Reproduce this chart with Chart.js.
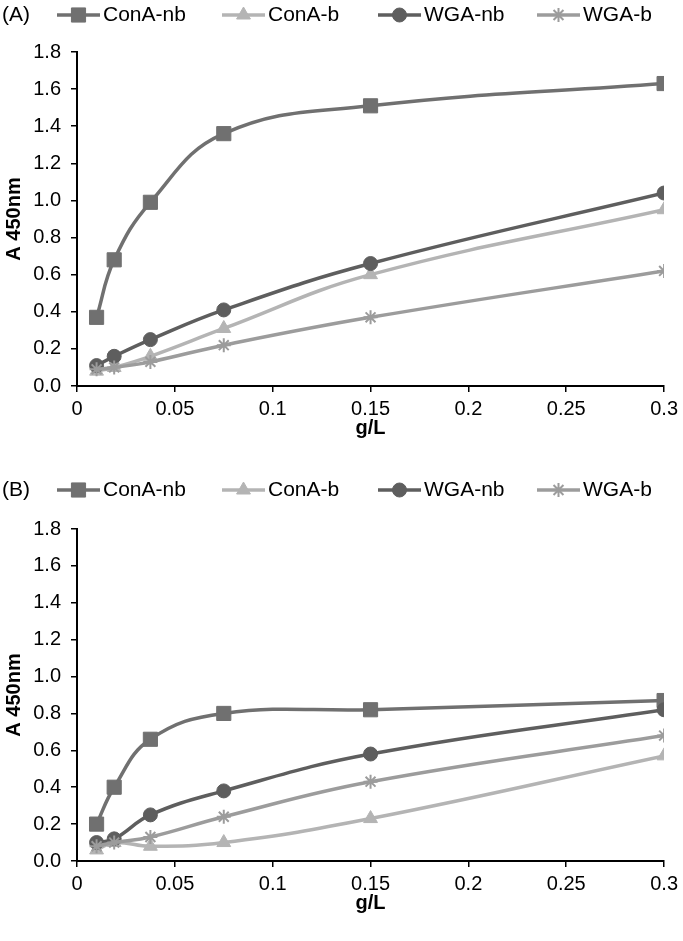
<!DOCTYPE html>
<html>
<head>
<meta charset="utf-8">
<script src="https://cdn.jsdelivr.net/npm/chart.js@4/dist/chart.umd.min.js"></script>
<style>
  html, body { margin: 0; padding: 0; background: #fff; }
  .panel { position: relative; width: 683px; }
  canvas { display: block; }
</style>
</head>
<body>
<div class="panel"><canvas id="chartA" width="683" height="470"></canvas></div>
<div class="panel"><canvas id="chartB" width="683" height="471"></canvas></div>
<script>
// concentrations (g/L)
const doses = [0.01, 0.019, 0.0375, 0.075, 0.15, 0.3];
const seriesNames = ["ConA-nb", "ConA-b", "WGA-nb", "WGA-b"];

// panel A
const conaNbA = [0.37, 0.68, 0.99, 1.36, 1.51, 1.63];
const conaBA = [0.08, 0.10, 0.16, 0.31, 0.60, 0.95];
const wgaNbA = [0.11, 0.16, 0.25, 0.41, 0.66, 1.04];
const wgaBA = [0.09, 0.10, 0.13, 0.22, 0.37, 0.62];

// panel B
const conaNbB = [0.20, 0.40, 0.66, 0.80, 0.82, 0.87];
const conaBB = [0.06, 0.10, 0.08, 0.10, 0.23, 0.57];
const wgaNbB = [0.10, 0.12, 0.25, 0.38, 0.58, 0.82];
const wgaBB = [0.08, 0.10, 0.13, 0.24, 0.43, 0.68];

const xTickValues = [0, 0.05, 0.1, 0.15, 0.2, 0.25, 0.3];
const xTickLabels = ["0", "0.05", "0.1", "0.15", "0.2", "0.25", "0.3"];
const yTickValues = [0, 0.2, 0.4, 0.6, 0.8, 1.0, 1.2, 1.4, 1.6, 1.8];
const yTickLabels = ["0.0", "0.2", "0.4", "0.6", "0.8", "1.0", "1.2", "1.4", "1.6", "1.8"];

const FONT = '"Liberation Sans", Arial, sans-serif';

const styles = [
  { color: "#707070", point: "rect", radius: 10, order: 3 },
  { color: "#b4b4b4", point: "triangle", radius: 8, order: 2 },
  { color: "#5e5e5e", point: "circle", radius: 7, order: 1 },
  { color: "#9c9c9c", point: "star", radius: 7, order: 0 },
];

// legend: line with the marker in the middle, like the spreadsheet one
const lineLegend = {
  id: "lineLegend",
  afterDraw(chart, args, opts) {
    const ctx = chart.ctx;
    ctx.save();
    ctx.font = "21px " + FONT;
    ctx.textBaseline = "middle";
    ctx.fillStyle = "#000";
    ctx.fillText(opts.tag, 2, opts.y);
    chart.data.datasets.forEach((ds, i) => {
      const x0 = opts.xs[i];
      ctx.strokeStyle = ds.borderColor;
      ctx.lineWidth = ds.borderWidth;
      ctx.beginPath();
      ctx.moveTo(x0, opts.y);
      ctx.lineTo(x0 + 43, opts.y);
      ctx.stroke();
      ctx.fillStyle = ds.pointBackgroundColor;
      ctx.strokeStyle = ds.pointBorderColor;
      ctx.lineWidth = ds.pointBorderWidth;
      Chart.helpers.drawPoint(ctx, {
        pointStyle: ds.pointStyle,
        radius: ds.pointRadius,
        borderWidth: ds.pointBorderWidth,
        rotation: 0,
      }, x0 + 21.5, opts.y);
      ctx.fillStyle = "#000";
      ctx.fillText(ds.label, x0 + 46, opts.y);
    });
    ctx.restore();
  },
};

function makePanel(id, tag, values, legendY, topPad, bottomPad) {
  const datasets = values.map((vals, i) => ({
    label: seriesNames[i],
    data: doses.map((d, j) => ({ x: d, y: vals[j] })),
    borderColor: styles[i].color,
    backgroundColor: styles[i].color,
    pointBackgroundColor: styles[i].color,
    pointBorderColor: styles[i].color,
    pointBorderWidth: styles[i].point === "star" ? 2 : 1,
    pointStyle: styles[i].point,
    pointRadius: styles[i].radius,
    borderWidth: 3.5,
    tension: 0.42,
    order: styles[i].order,
    fill: false,
  }));

  return new Chart(document.getElementById(id), {
    type: "line",
    data: { datasets },
    plugins: [lineLegend],
    options: {
      responsive: false,
      animation: false,
      events: [],
      layout: { padding: { top: topPad, right: 18, bottom: bottomPad, left: 0 } },
      plugins: {
        legend: { display: false },
        tooltip: { enabled: false },
        lineLegend: { tag: tag, y: legendY, xs: [57, 222, 378, 537] },
      },
      scales: {
        x: {
          type: "linear",
          min: 0,
          max: 0.3,
          afterBuildTicks: (s) => { s.ticks = xTickValues.map((v) => ({ value: v })); },
          ticks: {
            color: "#000",
            padding: 5,
            maxRotation: 0,
            font: { family: FONT, size: 20 },
            callback: (v, i) => xTickLabels[i],
          },
          grid: { drawOnChartArea: false, color: "#000", lineWidth: 1.5, tickLength: 6 },
          border: { color: "#000", width: 2 },
          title: {
            display: true,
            text: "g/L",
            color: "#000",
            padding: { top: -8, bottom: 0 },
            font: { family: FONT, size: 20, weight: "bold", lineHeight: 1 },
          },
        },
        y: {
          min: 0,
          max: 1.8,
          afterBuildTicks: (s) => { s.ticks = yTickValues.map((v) => ({ value: v })); },
          afterFit: (s) => { s.width = 77; },
          ticks: {
            color: "#000",
            padding: 10,
            font: { family: FONT, size: 20 },
            callback: (v, i) => yTickLabels[i],
          },
          grid: { drawOnChartArea: false, color: "#000", lineWidth: 1.5, tickLength: 6 },
          border: { color: "#000", width: 2 },
          title: {
            display: true,
            text: "A 450nm",
            color: "#000",
            padding: { top: 4, bottom: 0 },
            font: { family: FONT, size: 20, weight: "bold", lineHeight: 1 },
          },
        },
      },
    },
  });
}

makePanel("chartA", "(A)", [conaNbA, conaBA, wgaNbA, wgaBA], 15, 52, 32);
makePanel("chartB", "(B)", [conaNbB, conaBB, wgaNbB, wgaBB], 20, 59, 28);
</script>
</body>
</html>
